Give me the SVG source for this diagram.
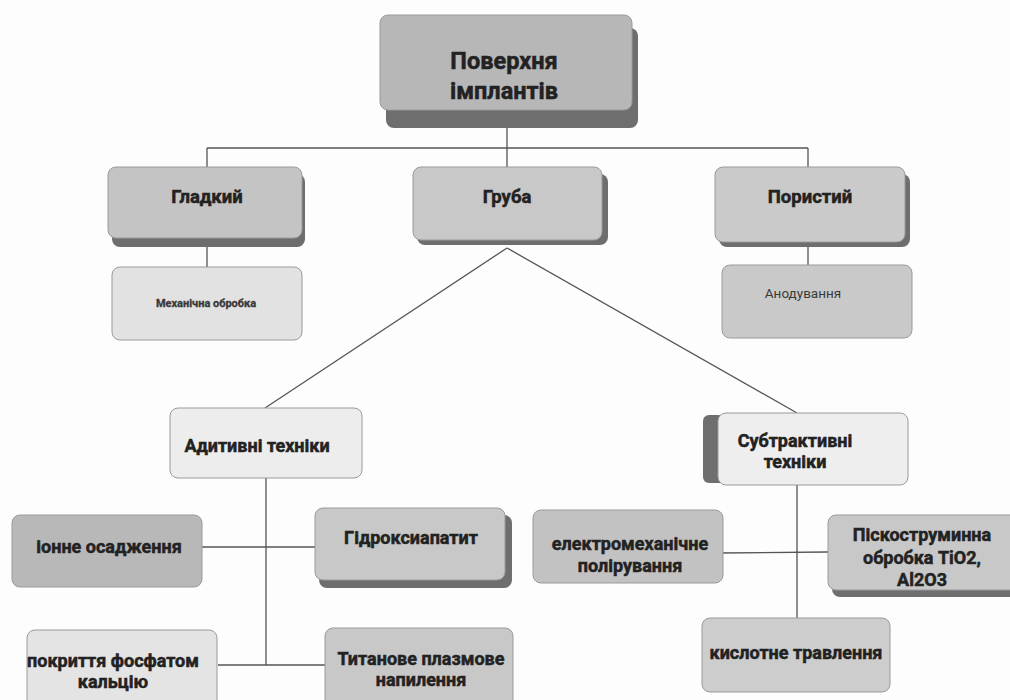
<svg xmlns="http://www.w3.org/2000/svg" width="1010" height="700" viewBox="0 0 1010 700">
<style>
.bx{stroke:#9a9a9a;stroke-width:1}
.sh{fill:#6e6e6e}
.t{font-family:Roboto,"Liberation Sans",sans-serif;font-weight:bold;fill:#222;stroke:#222;stroke-width:0.5;text-anchor:middle}
.s{font-family:Roboto,"Liberation Sans",sans-serif;fill:#3a3a3a;text-anchor:middle}
.ln{stroke:#555;stroke-width:1.3;fill:none}
</style>
<rect width="1010" height="700" fill="#fdfdfd"/>
<g id="connectors">
<path class="ln" d="M507 110V148M207 148H808M207 148V167M507 148V167M808 148V167"/>
<path class="ln" d="M207 242V267M808 245V265"/>
<path class="ln" d="M507 248L265 408M507 248L797 413"/>
<path class="ln" d="M266 478V665M200 547H315M218 665H325"/>
<path class="ln" d="M797 485V618M720 553L828 552"/>
</g>
<g id="n-top">
<rect class="sh" x="386" y="28" width="252" height="100" rx="8"/>
<rect class="bx" x="380" y="15" width="252" height="95" rx="8" fill="#b7b7b7"/>
<text class="t" x="504" y="69" font-size="23.5">Поверхня</text>
<text class="t" x="504" y="99" font-size="23.5">імплантів</text>
</g>
<g id="n-smooth">
<rect class="sh" x="112" y="174" width="193" height="73" rx="8"/>
<rect class="bx" x="108" y="167" width="194" height="71" rx="8" fill="#c4c4c4"/>
<text class="t" x="207" y="203" font-size="18.5">Гладкий</text>
</g>
<g id="n-rough">
<rect class="sh" x="417" y="174" width="191" height="71" rx="8"/>
<rect class="bx" x="413" y="167" width="189" height="73" rx="8" fill="#c8c8c8"/>
<text class="t" x="507" y="203" font-size="18.5">Груба</text>
</g>
<g id="n-porous">
<rect class="sh" x="719" y="174" width="191" height="73" rx="8"/>
<rect class="bx" x="715" y="167" width="190" height="75" rx="8" fill="#cacaca"/>
<text class="t" x="810" y="203" font-size="18.5">Пористий</text>
</g>
<g id="n-mech">
<rect class="bx" x="112" y="267" width="190" height="73" rx="8" fill="#e2e2e2"/>
<text class="s" x="206" y="307" font-size="11" font-weight="bold" stroke="#333" stroke-width="0.3">Механічна обробка</text>
</g>
<g id="n-anod">
<rect class="bx" x="722" y="265" width="190" height="73" rx="8" fill="#c9c9c9"/>
<text class="s" x="803" y="298" font-size="13.5">Анодування</text>
</g>
<g id="n-add">
<rect class="bx" x="170" y="408" width="192" height="70" rx="8" fill="#ededed"/>
<text class="t" x="257" y="452" font-size="18">Адитивні техніки</text>
</g>
<g id="n-sub">
<rect class="sh" x="703" y="415" width="60" height="68" rx="6"/>
<rect class="bx" x="718" y="413" width="190" height="72" rx="8" fill="#eeeeee"/>
<text class="t" x="795" y="447" font-size="18">Субтрактивні</text>
<text class="t" x="795" y="468" font-size="18">техніки</text>
</g>
<g id="n-ion">
<rect class="bx" x="12" y="515" width="190" height="72" rx="8" fill="#b8b8b8"/>
<text class="t" x="109" y="553" font-size="18">іонне осадження</text>
</g>
<g id="n-hydro">
<rect class="sh" x="319" y="515" width="193" height="73" rx="8"/>
<rect class="bx" x="315" y="508" width="190" height="72" rx="8" fill="#c8c8c8"/>
<text class="t" x="411" y="544" font-size="18">Гідроксиапатит</text>
</g>
<g id="n-phos">
<rect class="bx" x="27" y="630" width="190" height="80" rx="8" fill="#e4e4e4"/>
<text class="t" x="113" y="667" font-size="18">покриття фосфатом</text>
<text class="t" x="113" y="688" font-size="18">кальцію</text>
</g>
<g id="n-ti">
<rect class="bx" x="325" y="628" width="188" height="80" rx="8" fill="#c8c8c8"/>
<text class="t" x="421" y="665" font-size="18">Титанове плазмове</text>
<text class="t" x="421" y="686" font-size="18">напилення</text>
</g>
<g id="n-electro">
<rect class="bx" x="533" y="510" width="190" height="73" rx="8" fill="#c2c2c2"/>
<text class="t" x="630" y="550" font-size="18">електромеханічне</text>
<text class="t" x="630" y="572" font-size="18">полірування</text>
</g>
<g id="n-sand">
<rect class="sh" x="832" y="522" width="190" height="75" rx="8"/>
<rect class="bx" x="828" y="515" width="190" height="75" rx="8" fill="#c8c8c8"/>
<text class="t" x="922" y="541" font-size="18">Піскоструминна</text>
<text class="t" x="922" y="564" font-size="18">обробка TiO2,</text>
<text class="t" x="922" y="586" font-size="18">Al2O3</text>
</g>
<g id="n-acid">
<rect class="bx" x="702" y="618" width="188" height="74" rx="8" fill="#cdcdcd"/>
<text class="t" x="796" y="659" font-size="18">кислотне травлення</text>
</g>
</svg>
